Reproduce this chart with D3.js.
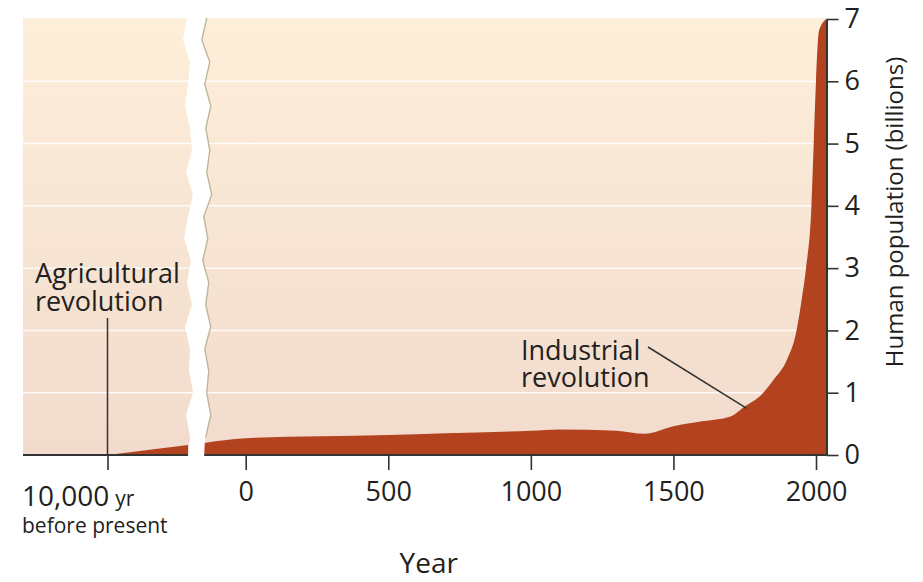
<!DOCTYPE html>
<html>
  <head>
    <meta charset="utf-8">
    <title>Human population growth</title>
    <script src="https://cdn.jsdelivr.net/npm/d3@7/dist/d3.min.js"></script>
    <style>
      body { margin: 0; background: #fff; }
      text { font-family: "Open Sans", sans-serif; fill: #231f20; }
    </style>
  </head>
  <body>
    <svg width="923" height="582"></svg>

    <script>
      // left of the break: years counted before the present (schematic)
      const earlyYears = [-10000, -9200];
      const earlyPop = [0, 0.16];

      // right of the break: calendar years, population in billions
      const years = [-150, 0, 500, 700, 1000, 1100, 1300, 1400, 1500, 1600, 1700, 1750,
                     1800, 1850, 1900, 1930, 1950, 1965, 1984, 1992, 2000, 2010, 2036];
      const pop = [0.19, 0.27, 0.32, 0.35, 0.39, 0.41, 0.39, 0.34, 0.46, 0.54, 0.62, 0.78,
                   0.93, 1.2, 1.55, 1.96, 2.5, 3.0, 4.0, 5.0, 6.0, 6.8, 7.0];

      const yearTicks = [0, 500, 1000, 1500, 2000];
      const popTicks = [0, 1, 2, 3, 4, 5, 6, 7];
      const earlyTick = -10000;

      const svg = d3.select("svg");
      const plot = { left: 23, right: 826.5, top: 19, bottom: 455 };
      const gap = { left: 188, right: 203 };

      const y = d3.scaleLinear().domain([0, 7]).range([plot.bottom, plot.top]);
      const xEarly = d3.scaleLinear().domain([-10840, -9200]).range([plot.left, gap.left]);
      const x = d3.scaleLinear().domain([0, 2000]).range([245.7, 816]);

      const early = earlyYears.map((d, i) => ({ year: d, pop: earlyPop[i] }));
      const late = years.map((d, i) => ({ year: d, pop: pop[i] }));

      const defs = svg.append("defs");
      const grad = defs.append("linearGradient")
          .attr("id", "bg").attr("x1", 0).attr("y1", 0).attr("x2", 0).attr("y2", 1);
      grad.append("stop").attr("offset", "0%").attr("stop-color", "#fdeed9");
      grad.append("stop").attr("offset", "100%").attr("stop-color", "#f2dbcd");

      svg.append("rect")
          .attr("x", plot.left).attr("y", plot.top - 1)
          .attr("width", plot.right - plot.left).attr("height", plot.bottom - plot.top + 1)
          .attr("fill", "url(#bg)");

      svg.append("g").selectAll("line")
          .data(popTicks.slice(1, -1))
          .enter().append("line")
            .attr("x1", plot.left).attr("x2", plot.right)
            .attr("y1", d => y(d)).attr("y2", d => y(d))
            .attr("stroke", "#fff").attr("stroke-opacity", 0.85).attr("stroke-width", 1.5);

      svg.append("path")
          .datum(early)
          .attr("fill", "#b3421e")
          .attr("d", d3.area().x(d => xEarly(d.year)).y0(y(0)).y1(d => y(d.pop)));

      svg.append("path")
          .datum(late)
          .attr("fill", "#b3421e")
          .attr("d", d3.area().curve(d3.curveMonotoneX)
              .x(d => x(d.year)).y0(y(0)).y1(d => y(d.pop)));

      // x axis baseline, two pieces either side of the break
      svg.append("g").selectAll("line")
          .data([[plot.left, gap.left], [gap.right, plot.right]])
          .enter().append("line")
            .attr("x1", d => d[0]).attr("x2", d => d[1])
            .attr("y1", plot.bottom).attr("y2", plot.bottom)
            .attr("stroke", "#333").attr("stroke-width", 2);

      const xAxisG = svg.append("g")
          .attr("transform", `translate(0,${plot.bottom})`)
          .call(d3.axisBottom(x).tickValues(yearTicks).tickFormat(d3.format("d"))
              .tickSize(15).tickPadding(12).tickSizeOuter(0));
      xAxisG.select(".domain").remove();

      const earlyAxisG = svg.append("g")
          .attr("transform", `translate(0,${plot.bottom})`)
          .call(d3.axisBottom(xEarly).tickValues([earlyTick]).tickFormat("").tickSize(15));
      earlyAxisG.select(".domain").remove();

      const yAxisG = svg.append("g")
          .attr("transform", `translate(${plot.right},0)`)
          .call(d3.axisRight(y).tickValues(popTicks).tickFormat(d3.format("d"))
              .tickSize(12).tickPadding(6).tickSizeOuter(0));
      yAxisG.select(".domain").attr("stroke", "#333").attr("stroke-width", 2);

      svg.selectAll(".tick line").attr("stroke", "#333").attr("stroke-width", 1.6);
      svg.selectAll(".tick text")
          .style("font-family", '"Open Sans", sans-serif')
          .attr("font-size", 27).attr("fill", "#231f20");

      // the torn break in the time axis
      const zig = [
        [-9, 10], [-13, 5], [-6, 13], [-8, 8], [-11, 14], [-6, 9], [-4, 13], [-10, 10],
        [-3, 15], [-8, 7], [-12, 11], [-5, 6], [-9, 12], [-4, 9], [-11, 14], [-6, 8],
        [-7, 12], [-3, 10], [-10, 14], [-6, 9], [-8, 8]
      ];
      const breakX = 196;
      const step = (plot.bottom + 5 - plot.top) / (zig.length - 1);
      const leftEdge = zig.map((d, i) => [breakX + d[0], plot.top - 1 + i * step]);
      const rightEdge = zig.map((d, i) => [breakX + d[1], plot.top - 1 + i * step]);

      svg.append("path")
          .attr("fill", "#fff")
          .attr("d", d3.line()(leftEdge.concat(rightEdge.slice().reverse())) + "Z");
      svg.append("path")
          .attr("fill", "none")
          .attr("stroke", "#bdb59c").attr("stroke-width", 1.3)
          .attr("d", d3.line()(rightEdge.map(d => [d[0] + 0.8, d[1]]).slice(0, -1)));

      // early tick label
      const earlyLabel = svg.append("text")
          .attr("x", plot.left - 1).attr("y", 506)
          .attr("font-size", 28);
      earlyLabel.append("tspan").text("10,000");
      earlyLabel.append("tspan").attr("font-size", 21).attr("dx", 6).text("yr");
      svg.append("text")
          .attr("x", plot.left - 1).attr("y", 533)
          .attr("font-size", 21)
          .text("before present");

      svg.append("text")
          .attr("x", (plot.left + plot.right) / 2 + 4).attr("y", 573)
          .attr("text-anchor", "middle")
          .attr("font-size", 28)
          .text("Year");

      svg.append("text")
          .attr("transform", `translate(903,212) rotate(-90)`)
          .attr("text-anchor", "middle")
          .attr("font-size", 24)
          .text("Human population (billions)");

      // annotations
      svg.append("line")
          .attr("x1", xEarly(earlyTick)).attr("x2", xEarly(earlyTick))
          .attr("y1", 318).attr("y2", y(0))
          .attr("stroke", "#333").attr("stroke-width", 1.5);
      const agriLines = ["Agricultural", "revolution"];
      svg.append("g").selectAll("text")
          .data(agriLines)
          .enter().append("text")
            .attr("x", 35).attr("y", (d, i) => 283 + i * 28)
            .attr("font-size", 27)
            .text(d => d);

      svg.append("line")
          .attr("x1", 648).attr("y1", 347)
          .attr("x2", x(1757)).attr("y2", y(0.75))
          .attr("stroke", "#333").attr("stroke-width", 1.5);
      const indLines = ["Industrial", "revolution"];
      svg.append("g").selectAll("text")
          .data(indLines)
          .enter().append("text")
            .attr("x", 521).attr("y", (d, i) => 360 + i * 27)
            .attr("font-size", 27)
            .text(d => d);
    </script>
  </body>
</html>
